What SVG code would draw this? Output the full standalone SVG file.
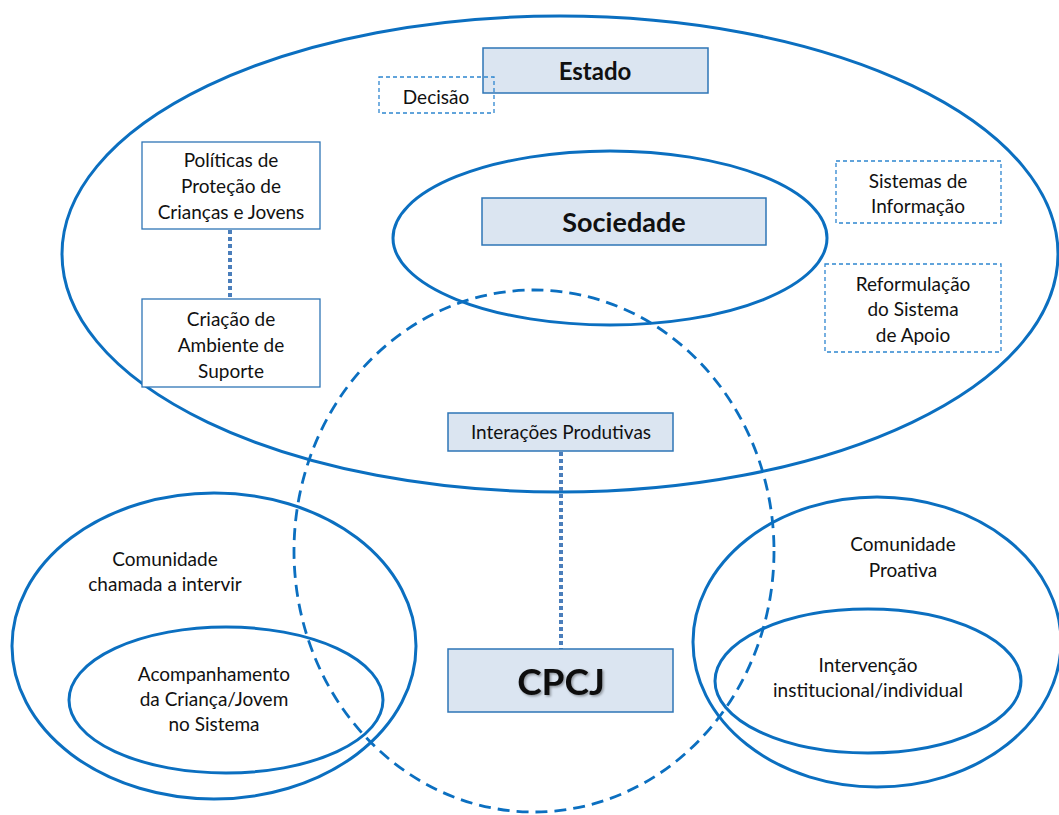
<svg xmlns="http://www.w3.org/2000/svg" width="1059" height="815" viewBox="0 0 1059 815">
  <defs>
    <style>
      .ring { fill: none; stroke: #0b6fc0; stroke-width: 3; }
      .ring-dash { fill: none; stroke: #0b6fc0; stroke-width: 2.8; stroke-dasharray: 12 7; }
      .box { fill: #ffffff; stroke: #2e75b6; stroke-width: 1.3; }
      .box-fill { fill: #dbe5f1; stroke: #2e75b6; stroke-width: 1.5; }
      .box-dash { fill: none; stroke: #2e86d0; stroke-width: 1.3; stroke-dasharray: 4 3; }
      .link { stroke: #4a7ebb; stroke-width: 4; stroke-dasharray: 4 3; fill: none; }
      text { font-family: Lato, "Open Sans", "Liberation Sans", sans-serif; fill: #111; text-anchor: middle; }
      .t { font-size: 19px; }
      .b1 { font-size: 24px; font-weight: bold; }
      .b2 { font-size: 27px; font-weight: bold; }
      .b3 { font-size: 37px; font-weight: bold; }
    </style>
    <filter id="shadow" x="-10%" y="-10%" width="130%" height="130%">
      <feDropShadow dx="1.5" dy="1.5" stdDeviation="1" flood-color="#000" flood-opacity="0.35"/>
    </filter>
  </defs>

  <rect width="1059" height="815" fill="#ffffff"/>

  <!-- regions -->
  <g id="estado-region"><ellipse class="ring" cx="560" cy="254" rx="498" ry="238"/></g>
  <g id="sociedade-region"><ellipse class="ring" cx="610" cy="238" rx="217" ry="87"/></g>
  <g id="cpcj-region"><ellipse class="ring-dash" cx="534" cy="551" rx="240" ry="261"/></g>
  <g id="comunidade-chamada"><ellipse class="ring" cx="214" cy="646" rx="202" ry="153"/></g>
  <g id="acompanhamento"><ellipse class="ring" cx="226" cy="700" rx="157" ry="73"/></g>
  <g id="comunidade-proativa"><ellipse class="ring" cx="877" cy="642" rx="184" ry="145"/></g>
  <g id="intervencao"><ellipse class="ring" cx="868" cy="681" rx="153" ry="72"/></g>

  <!-- connectors -->
  <g id="connectors">
    <line class="link" x1="230" y1="230" x2="230" y2="299"/>
    <line class="link" x1="561" y1="452" x2="561" y2="649"/>
  </g>

  <!-- nodes -->
  <g id="estado">
    <rect class="box-fill" x="483" y="48" width="225" height="45"/>
    <text class="b1" x="595" y="80">Estado</text>
  </g>
  <g id="decisao">
    <rect class="box-dash" x="379" y="77" width="115" height="36"/>
    <text class="t" x="436" y="104">Decisão</text>
  </g>
  <g id="politicas">
    <rect class="box" x="142" y="142" width="178" height="87"/>
    <text class="t" x="231" y="167">Políticas de</text>
    <text class="t" x="231" y="193">Proteção de</text>
    <text class="t" x="231" y="219">Crianças e Jovens</text>
  </g>
  <g id="criacao">
    <rect class="box" x="142" y="299" width="178" height="88"/>
    <text class="t" x="231" y="326">Criação de</text>
    <text class="t" x="231" y="352">Ambiente de</text>
    <text class="t" x="231" y="378">Suporte</text>
  </g>
  <g id="sociedade">
    <rect class="box-fill" x="482" y="198" width="284" height="47"/>
    <text class="b2" x="624" y="232">Sociedade</text>
  </g>
  <g id="sistemas">
    <rect class="box-dash" x="836" y="161" width="165" height="62"/>
    <text class="t" x="918" y="188">Sistemas  de</text>
    <text class="t" x="918" y="213">Informação</text>
  </g>
  <g id="reformulacao">
    <rect class="box-dash" x="825" y="264" width="176" height="88"/>
    <text class="t" x="913" y="291">Reformulação</text>
    <text class="t" x="913" y="316">do Sistema</text>
    <text class="t" x="913" y="342">de Apoio</text>
  </g>
  <g id="interacoes">
    <rect class="box-fill" x="448" y="413" width="225" height="38"/>
    <text class="t" x="561" y="439">Interações Produtivas</text>
  </g>
  <g id="cpcj">
    <rect class="box-fill" x="448" y="649" width="225" height="63"/>
    <text class="b3" x="561" y="695" filter="url(#shadow)">CPCJ</text>
  </g>
  <g id="label-comunidade-chamada">
    <text class="t" x="165" y="566">Comunidade</text>
    <text class="t" x="165" y="591">chamada a intervir</text>
  </g>
  <g id="label-acompanhamento">
    <text class="t" x="214" y="681">Acompanhamento</text>
    <text class="t" x="214" y="706">da Criança/Jovem</text>
    <text class="t" x="214" y="731">no Sistema</text>
  </g>
  <g id="label-comunidade-proativa">
    <text class="t" x="903" y="551">Comunidade</text>
    <text class="t" x="903" y="577">Proativa</text>
  </g>
  <g id="label-intervencao">
    <text class="t" x="868" y="672">Intervenção</text>
    <text class="t" x="868" y="697">institucional/individual</text>
  </g>
</svg>
